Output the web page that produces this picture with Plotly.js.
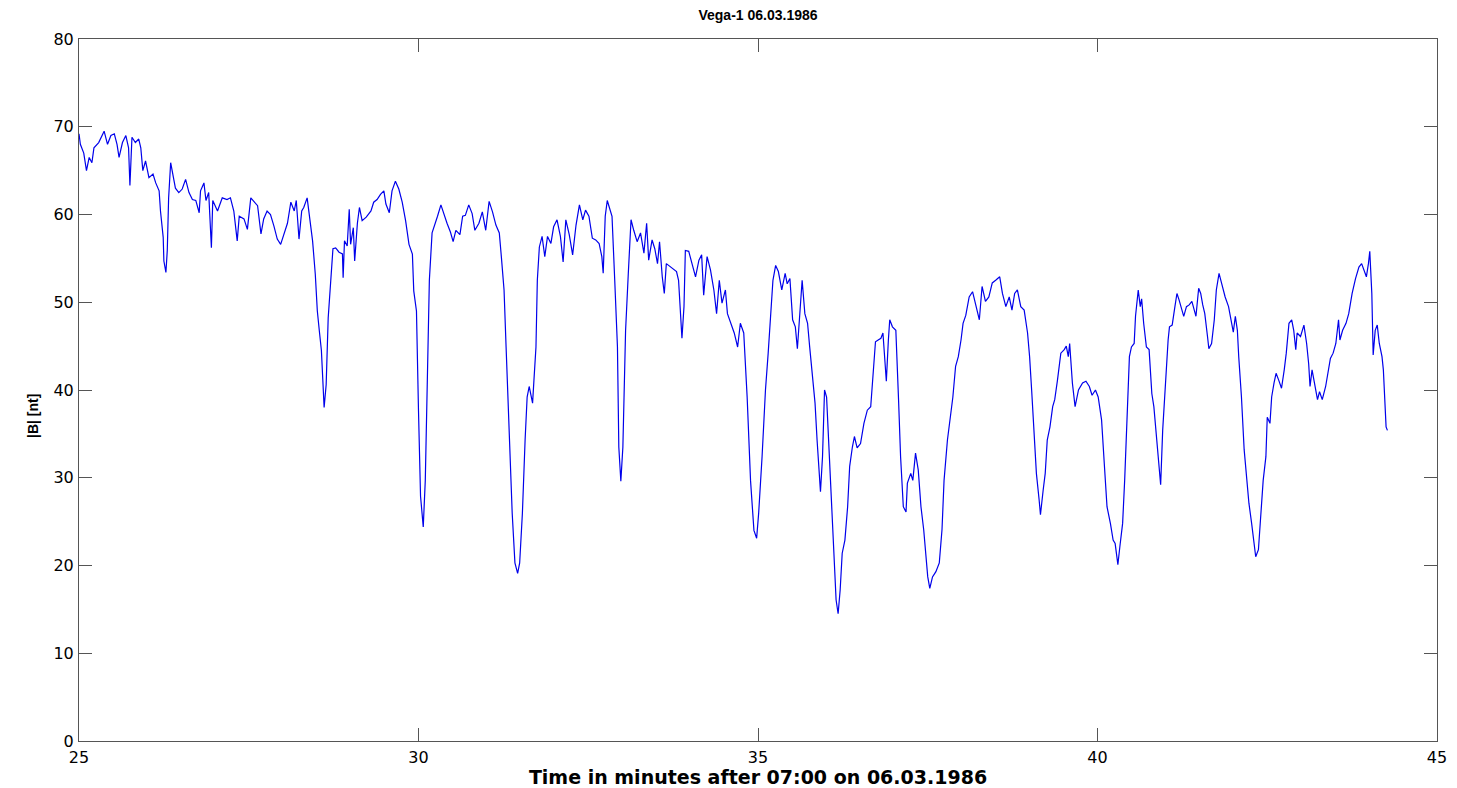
<!DOCTYPE html>
<html>
<head>
<meta charset="utf-8">
<script src="https://cdn.plot.ly/plotly-3.0.1.min.js"></script>
<style>html,body{margin:0;padding:0;background:#fff;}#chart{width:1457px;height:788px;}</style>
</head>
<body>
<div id="chart"></div>
<script>
// Time in minutes after 07:00 on 06.03.1986
const timeMin = [
25.00,25.02,25.07,25.11,25.15,25.19,25.22,25.29,25.37,25.42,25.47,25.52,25.56,25.59,25.64,25.69,25.73,25.75,25.78,25.83,
25.88,25.91,25.94,25.98,26.03,26.09,26.13,26.18,26.20,26.24,26.25,26.28,26.30,26.32,26.35,26.37,26.42,26.47,26.52,26.57,
26.62,26.67,26.72,26.77,26.79,26.84,26.87,26.91,26.95,26.97,27.04,27.11,27.18,27.23,27.28,27.33,27.36,27.43,27.48,27.53,
27.58,27.63,27.68,27.72,27.77,27.82,27.87,27.92,27.97,28.02,28.07,28.12,28.17,28.20,28.24,28.28,28.31,28.36,28.40,28.44,
28.48,28.51,28.54,28.57,28.61,28.64,28.67,28.71,28.74,28.78,28.83,28.88,28.89,28.91,28.95,28.98,29.00,29.04,29.06,29.10,
29.13,29.17,29.23,29.30,29.34,29.39,29.44,29.49,29.52,29.57,29.61,29.66,29.71,29.76,29.81,29.86,29.91,29.93,29.97,30.00,
30.03,30.07,30.10,30.13,30.16,30.20,30.24,30.28,30.33,30.37,30.42,30.47,30.51,30.55,30.61,30.65,30.69,30.74,30.79,30.83,
30.89,30.94,30.99,31.04,31.09,31.14,31.19,31.22,31.26,31.29,31.33,31.38,31.42,31.46,31.49,31.53,31.57,31.60,31.63,31.68,
31.70,31.73,31.75,31.78,31.82,31.86,31.90,31.95,31.99,32.04,32.09,32.13,32.17,32.22,32.27,32.32,32.37,32.42,32.46,32.51,
32.56,32.61,32.66,32.70,32.72,32.75,32.78,32.82,32.85,32.89,32.93,32.95,32.98,33.01,33.05,33.09,33.13,33.17,33.22,33.27,
33.32,33.36,33.39,33.44,33.48,33.52,33.55,33.59,33.62,33.65,33.70,33.74,33.80,33.83,33.86,33.88,33.91,33.93,33.98,34.03,
34.08,34.13,34.17,34.20,34.25,34.30,34.35,34.39,34.43,34.47,34.52,34.55,34.60,34.65,34.70,34.74,34.79,34.84,34.89,34.94,
34.98,35.01,35.06,35.11,35.15,35.19,35.22,35.26,35.30,35.35,35.40,35.43,35.47,35.51,35.55,35.58,35.61,35.65,35.69,35.73,
35.76,35.80,35.84,35.87,35.90,35.92,35.95,35.98,36.01,36.05,36.09,36.12,36.15,36.18,36.21,36.24,36.28,36.32,36.35,36.39,
36.42,36.46,36.51,36.56,36.61,36.66,36.71,36.73,36.77,36.81,36.84,36.87,36.89,36.92,36.94,36.98,37.03,37.07,37.10,37.14,
37.18,37.20,37.25,37.28,37.32,37.36,37.40,37.44,37.47,37.50,37.53,37.57,37.62,37.67,37.71,37.74,37.79,37.84,37.87,37.91,
37.95,37.99,38.02,38.06,38.11,38.16,38.21,38.26,38.30,38.35,38.40,38.45,38.50,38.56,38.60,38.65,38.70,38.74,38.78,38.82,
38.87,38.92,38.97,39.00,39.03,39.07,39.10,39.14,39.16,39.20,39.23,39.26,39.30,39.34,39.37,39.41,39.46,39.51,39.54,39.57,
39.59,39.63,39.67,39.72,39.78,39.83,39.88,39.92,39.97,40.01,40.06,40.10,40.14,40.19,40.23,40.26,40.30,40.33,40.37,40.40,
40.44,40.47,40.50,40.54,40.56,40.60,40.63,40.65,40.68,40.72,40.76,40.80,40.83,40.87,40.90,40.93,40.96,41.00,41.04,41.06,
41.10,41.14,41.17,41.20,41.24,41.27,41.31,41.35,41.39,41.42,41.45,41.49,41.52,41.55,41.58,41.62,41.64,41.68,41.72,41.75,
41.79,41.83,41.88,41.93,41.96,42.00,42.03,42.06,42.08,42.12,42.16,42.19,42.23,42.27,42.31,42.33,42.37,42.40,42.44,42.48,
42.50,42.54,42.565,42.60,42.63,42.67,42.71,42.75,42.78,42.82,42.86,42.89,42.92,42.94,42.99,43.04,43.08,43.11,43.13,43.16,
43.20,43.24,43.27,43.31,43.36,43.40,43.43,43.47,43.51,43.55,43.57,43.61,43.66,43.70,43.75,43.80,43.85,43.89,43.92,43.96,
43.99,44.01,44.04,44.06,44.09,44.12,44.15,44.19,44.21,44.23,44.25,44.27
];
// |B| in nT
const fieldB = [
69.2,68,67,65,66.5,65.9,67.6,68.2,69.5,68,69,69.2,68,66.5,68.2,69,67.6,63.3,68.8,68.2,
68.6,67.6,65,66.1,64.2,64.6,63.6,62.7,60.4,57.4,54.7,53.4,55.9,61.9,65.9,65,63,62.5,62.9,64,
62.5,61.7,61.6,60.2,62.7,63.6,61.6,62.5,56.2,61.6,60.4,61.9,61.7,61.9,60.4,57,59.8,59.5,58.3,61.9,
61.4,61,57.8,59.5,60.4,60,58.7,57.2,56.6,57.8,59,61.4,60.4,61.6,57.2,60.4,60.8,61.9,59.7,57,
53.2,49,46.7,44.5,38,40.6,48.2,52.8,56.1,56.2,55.7,55.5,52.8,57,56.4,60.6,56.6,58.5,54.7,59,
60.8,59.3,59.7,60.4,61.4,61.7,62.3,62.7,61.2,60.2,62.7,63.8,62.9,61.4,59.3,56.6,55.5,51.3,49,37.6,
27.9,24.4,29.7,41.1,52.5,57.9,59,59.8,61.1,60.1,59,58,56.9,58.2,57.7,59.8,59.9,61.1,60.1,58.2,
59,60.3,58.2,61.5,60.3,58.8,57.9,55.2,51.4,44.9,35.4,25.95,20.3,19.1,20.3,25.95,34.3,39.2,40.4,38.5,
41.1,44.9,52.5,56.3,57.5,55.2,57.5,56.7,58.6,59.4,57.5,54.6,59.4,57.7,55.4,58.8,61.1,59.4,60.5,59.8,
57.3,57.1,56.7,55.2,53.3,59.8,61.6,60.5,59.8,52.5,44.9,33.5,29.6,33.5,46.8,53.3,59.4,58.2,56.9,57.9,
55.6,59,54.8,57.1,56.1,54.4,56.9,52.9,51,54.4,54.1,53.9,53.5,52.5,48.7,45.9,49.5,55.9,55.8,54.4,
52.9,54.8,55.4,50.8,55.2,53.7,51.4,48.7,52.5,49.9,51.4,48.7,47.6,46.5,44.9,47.6,46.5,39.2,29.7,24,
23.1,26,32.4,40,44.2,49.5,52.5,54.2,53.5,51.4,53.3,52.1,52.7,48,47.2,44.7,48,52.5,48.7,47.6,
45,41.9,38.5,34.3,30.5,28.4,32.4,40,39.2,32.4,26.7,19.9,16.1,14.5,17.2,21.4,22.9,26.7,31.3,33.5,
34.7,33.4,33.9,36.2,37.7,38.1,43.8,45.5,45.7,45.9,46.5,43.8,41,45.7,48,47.2,46.8,38.9,32.4,26.7,
26.1,29.4,30.5,29.7,32.8,30.9,26.7,24.1,21,18.7,17.4,18.7,19.3,20.3,24.1,29.7,34.3,37.3,39.2,42.7,
43.8,45.7,47.6,48.5,50.6,51.2,49.7,48,51.8,50.1,50.6,52.2,52.5,52.9,51,49.5,50.6,49.1,51,51.4,
49.5,49.1,46.5,43.8,40,35.1,30.5,27.5,25.8,28.6,30.5,34.3,35.8,38.1,38.9,41.1,44.2,44.6,45,43.8,
45.3,40.8,38.1,40,40.8,41,40.4,39.4,40,39.2,36.6,31.6,26.7,24.8,22.9,22.5,20.1,22.2,24.8,29.7,
37.3,43.8,44.9,45.3,48.4,51.4,49.5,50.4,47.6,44.9,44.6,39.6,38.1,34.7,31.6,29.2,35.4,41.1,45.7,47.2,
47.4,49.5,51,50.3,49.1,48.4,49.5,49.7,50.1,49.1,48.4,51.6,51,49.7,48.7,46.1,44.7,45.3,48,51.4,
53.3,52.1,50.6,49.5,48.4,46.6,48.4,46.8,43.8,39.2,33.2,30.5,27.1,24.8,22.1,21,21.8,25.6,29.7,32.4,
36.9,36.2,39.2,40.8,41.9,41.1,40.2,42.3,44.2,47.6,48,46.8,44.6,46.5,46.1,47.4,45.3,43,40.4,42.3,
40.8,38.9,39.8,38.9,40.4,42.3,43.6,44.2,45.3,48,45.7,46.8,47.6,48.7,51,52.7,54,54.4,53.7,52.9,
54.4,55.8,51,44,46.8,47.4,45.3,43.8,42.3,39.2,35.8,35.4
];
const xTicks = [25, 30, 35, 40, 45];
const yTicks = [0, 10, 20, 30, 40, 50, 60, 70, 80];
const chartTitle = "Vega-1 06.03.1986";
const xTitle = "Time in minutes after 07:00 on 06.03.1986";
const yTitle = "|B| [nt]";

const trace = {
  x: timeMin, y: fieldB, type: 'scatter', mode: 'lines',
  line: {color: 'rgb(0,0,235)', width: 1.2}, hoverinfo: 'skip'
};
const axisCommon = {
  showline: true, linecolor: '#555', linewidth: 1, mirror: 'ticks',
  ticks: 'inside', ticklen: 13, tickcolor: '#555', tickwidth: 1,
  showgrid: false, zeroline: false,
  tickfont: {family: 'DejaVu Sans, sans-serif', size: 16, color: '#000'}
};
const layout = {
  width: 1457, height: 788,
  paper_bgcolor: '#fff', plot_bgcolor: '#fff',
  margin: {l: 79, r: 20, t: 39, b: 47},
  showlegend: false,
  title: {text: chartTitle, x: 0.5, xref: 'paper', xanchor: 'center', y: 1 - 15/788, yref: 'container', yanchor: 'middle',
    font: {family: 'Liberation Sans, Arial, sans-serif', size: 14, color: '#000', weight: 'bold'}},
  xaxis: Object.assign({}, axisCommon, {
    range: [25, 45], tickvals: xTicks, ticktext: xTicks.map(String),
    ticklabelstandoff: 2,
    title: {text: xTitle, standoff: 3, font: {family: 'DejaVu Sans, sans-serif', size: 19, color: '#000', weight: 'bold'}}
  }),
  yaxis: Object.assign({}, axisCommon, {
    range: [0, 80], tickvals: yTicks, ticktext: yTicks.map(String),
    ticklabelstandoff: 1,
    title: {text: ''}
  }),
  annotations: [{
    text: yTitle, xref: 'paper', yref: 'paper', x: (33 - 79) / 1358, y: (741 - 416) / 702,
    xanchor: 'center', yanchor: 'middle', textangle: -90, showarrow: false,
    font: {family: 'Liberation Sans, Arial, sans-serif', size: 14, color: '#000', weight: 'bold'}
  }]
};
Plotly.newPlot('chart', [trace], layout, {staticPlot: true, displayModeBar: false});
</script>
</body>
</html>
